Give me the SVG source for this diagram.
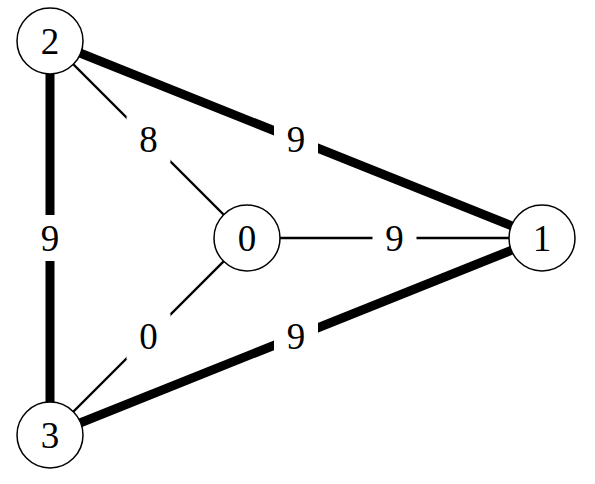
<svg xmlns="http://www.w3.org/2000/svg" width="595" height="484" viewBox="0 0 595 484">
<style>
.thin{stroke:#000;stroke-width:2.4;fill:none}
.thick{stroke:#000;stroke-width:9;fill:none}
.node circle{fill:#fff;stroke:#000;stroke-width:1.5}
.lbg{fill:#fff}
text{font-family:"Liberation Serif","DejaVu Serif",serif;font-size:37px;text-anchor:middle;fill:#000}
</style>
<rect width="595" height="484" fill="#fff"/>
<g id="connectors">
<line class="thin" x1="50" y1="41" x2="247" y2="238"/>
<line class="thick" x1="50" y1="41" x2="542" y2="238"/>
<line class="thick" x1="50" y1="41" x2="50" y2="435"/>
<line class="thin" x1="247" y1="238" x2="542" y2="238"/>
<line class="thin" x1="247" y1="238" x2="50" y2="435"/>
<line class="thick" x1="50" y1="435" x2="542" y2="238"/>
<rect class="lbg" x="126.5" y="116.5" width="44" height="46"/>
<rect class="lbg" x="274" y="116.5" width="44" height="46"/>
<rect class="lbg" x="28" y="215" width="44" height="46"/>
<rect class="lbg" x="372.5" y="215" width="44" height="46"/>
<rect class="lbg" x="126.5" y="313.5" width="44" height="46"/>
<rect class="lbg" x="274" y="313.5" width="44" height="46"/>
<text x="148.5" y="152">8</text>
<text x="296" y="152">9</text>
<text x="50" y="250.5">9</text>
<text x="394.5" y="250.5">9</text>
<text x="148.5" y="349">0</text>
<text x="296" y="349">9</text>
</g>
<g id="node0" class="node"><circle cx="247" cy="238" r="33"/><text x="247" y="250.5">0</text></g>
<g id="node1" class="node"><circle cx="542" cy="238" r="33"/><text x="542" y="250.5">1</text></g>
<g id="node2" class="node"><circle cx="50" cy="41" r="33"/><text x="50" y="53.5">2</text></g>
<g id="node3" class="node"><circle cx="50" cy="435" r="33"/><text x="50" y="447.5">3</text></g>
</svg>
